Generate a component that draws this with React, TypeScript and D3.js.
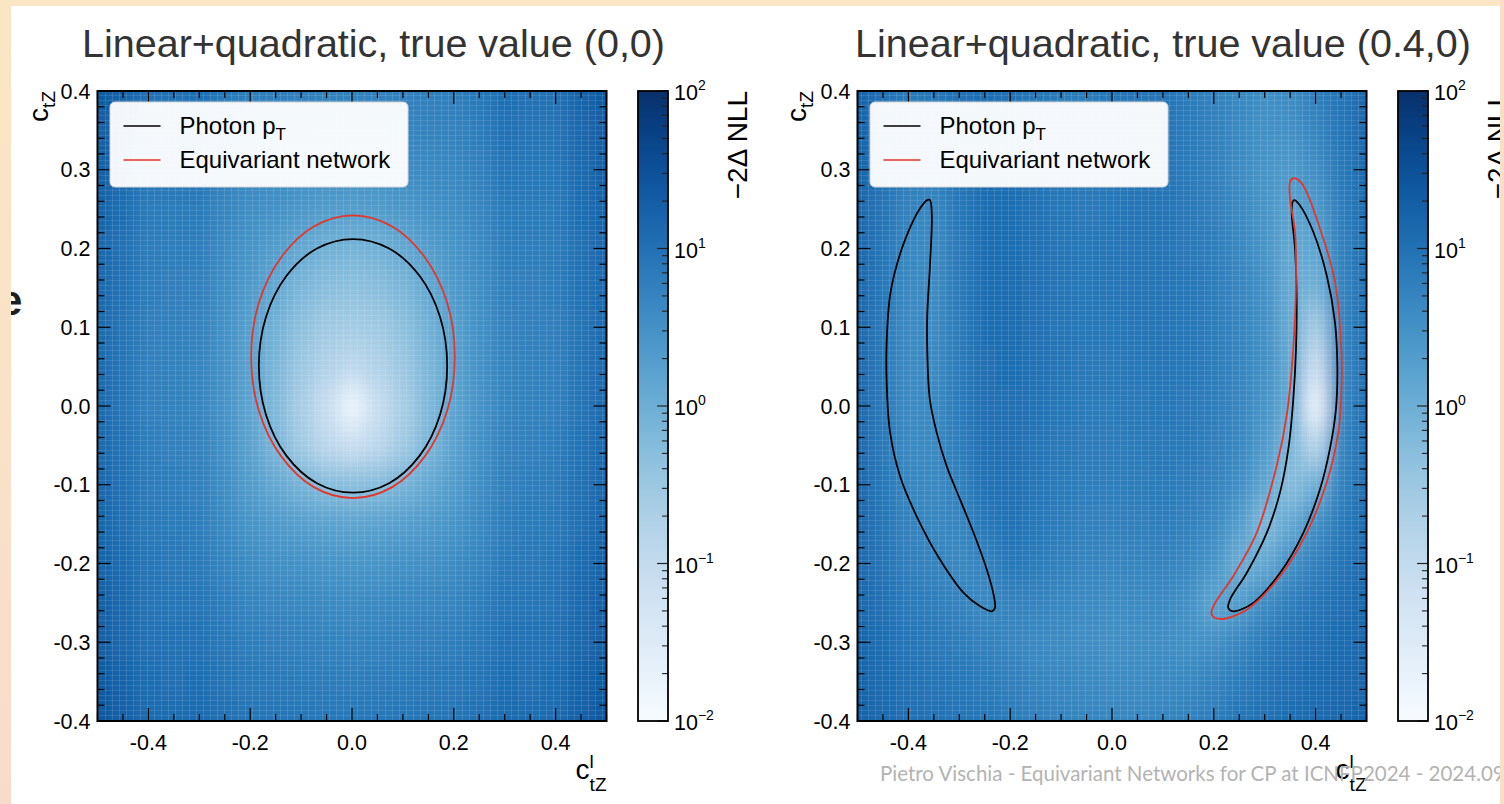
import React from "react";
import * as d3 from "d3";

// ---------- data ----------
const X_GRID = [-0.5, -0.45, -0.4, -0.35, -0.3, -0.25, -0.2, -0.15, -0.1, -0.05, 0, 0.05, 0.1, 0.15, 0.2, 0.25, 0.3, 0.35, 0.4, 0.45, 0.5];
const Y_GRID = [0.4, 0.35, 0.3, 0.25, 0.2, 0.15, 0.1, 0.05, 0, -0.05, -0.1, -0.15, -0.2, -0.25, -0.3, -0.35, -0.4];

// log10(-2 Delta NLL), true value (0,0)
const LOG_NLL_TRUE_00 = [
  [1.35, 1.2, 1.0, 1.0, 1.05, 0.9, 0.8, 0.8, 0.78, 0.75, 0.75, 0.75, 0.78, 0.8, 0.8, 0.9, 1.05, 1.0, 1.0, 1.2, 1.35],
  [1.3, 1.15, 0.95, 0.95, 0.98, 0.82, 0.72, 0.72, 0.7, 0.66, 0.65, 0.66, 0.7, 0.72, 0.72, 0.82, 0.98, 0.95, 0.95, 1.15, 1.3],
  [1.25, 1.1, 0.9, 0.9, 0.92, 0.75, 0.64, 0.62, 0.58, 0.52, 0.5, 0.52, 0.58, 0.62, 0.64, 0.75, 0.92, 0.9, 0.9, 1.1, 1.25],
  [1.2, 1.05, 0.85, 0.85, 0.85, 0.68, 0.55, 0.5, 0.4, 0.33, 0.3, 0.33, 0.4, 0.5, 0.55, 0.68, 0.85, 0.85, 0.85, 1.05, 1.2],
  [1.15, 1.0, 0.82, 0.8, 0.8, 0.6, 0.45, 0.3, 0.1, -0.05, -0.1, -0.05, 0.1, 0.3, 0.45, 0.6, 0.8, 0.8, 0.82, 1.0, 1.15],
  [1.12, 0.98, 0.8, 0.78, 0.75, 0.55, 0.35, 0.1, -0.15, -0.3, -0.35, -0.3, -0.15, 0.1, 0.35, 0.55, 0.75, 0.78, 0.8, 0.98, 1.12],
  [1.1, 0.96, 0.78, 0.75, 0.72, 0.5, 0.25, -0.05, -0.35, -0.55, -0.6, -0.55, -0.35, -0.05, 0.25, 0.5, 0.72, 0.75, 0.78, 0.96, 1.1],
  [1.1, 0.95, 0.77, 0.74, 0.7, 0.48, 0.2, -0.15, -0.5, -0.75, -0.9, -0.75, -0.5, -0.15, 0.2, 0.48, 0.7, 0.74, 0.77, 0.95, 1.1],
  [1.1, 0.95, 0.77, 0.74, 0.7, 0.47, 0.18, -0.2, -0.65, -1.1, -1.8, -1.1, -0.65, -0.2, 0.18, 0.47, 0.7, 0.74, 0.77, 0.95, 1.1],
  [1.12, 0.97, 0.8, 0.76, 0.72, 0.5, 0.2, -0.15, -0.55, -0.9, -1.1, -0.9, -0.55, -0.15, 0.2, 0.5, 0.72, 0.76, 0.8, 0.97, 1.12],
  [1.15, 1.0, 0.83, 0.8, 0.75, 0.55, 0.3, 0.1, -0.1, -0.25, -0.3, -0.25, -0.1, 0.1, 0.3, 0.55, 0.75, 0.8, 0.83, 1.0, 1.15],
  [1.18, 1.04, 0.87, 0.84, 0.8, 0.62, 0.45, 0.35, 0.28, 0.22, 0.2, 0.22, 0.28, 0.35, 0.45, 0.62, 0.8, 0.84, 0.87, 1.04, 1.18],
  [1.22, 1.08, 0.92, 0.88, 0.86, 0.7, 0.58, 0.52, 0.5, 0.46, 0.45, 0.46, 0.5, 0.52, 0.58, 0.7, 0.86, 0.88, 0.92, 1.08, 1.22],
  [1.26, 1.12, 0.96, 0.93, 0.92, 0.8, 0.7, 0.68, 0.65, 0.62, 0.6, 0.62, 0.65, 0.68, 0.7, 0.8, 0.92, 0.93, 0.96, 1.12, 1.26],
  [1.3, 1.16, 1.0, 0.98, 0.98, 0.88, 0.8, 0.78, 0.76, 0.73, 0.72, 0.73, 0.76, 0.78, 0.8, 0.88, 0.98, 0.98, 1.0, 1.16, 1.3],
  [1.35, 1.2, 1.05, 1.03, 1.05, 0.95, 0.88, 0.88, 0.85, 0.83, 0.82, 0.83, 0.85, 0.88, 0.88, 0.95, 1.05, 1.03, 1.05, 1.2, 1.35],
  [1.4, 1.25, 1.1, 1.08, 1.1, 1.02, 0.95, 0.95, 0.93, 0.9, 0.9, 0.9, 0.93, 0.95, 0.95, 1.02, 1.1, 1.08, 1.1, 1.25, 1.4],
];

// log10(-2 Delta NLL), true value (0.4,0)
const LOG_NLL_TRUE_04 = [
  [1.2, 1.0, 0.85, 0.9, 1.0, 1.05, 1.0, 0.9, 0.85, 0.85, 0.9, 0.95, 0.95, 0.85, 0.75, 0.65, 0.55, 0.6, 0.8, 0.95, 1.1],
  [1.2, 1.0, 0.82, 0.85, 0.98, 1.05, 1.02, 0.92, 0.85, 0.85, 0.9, 0.95, 0.95, 0.85, 0.75, 0.62, 0.5, 0.5, 0.7, 0.92, 1.1],
  [1.18, 0.98, 0.8, 0.8, 0.95, 1.05, 1.02, 0.95, 0.88, 0.87, 0.9, 0.95, 0.95, 0.85, 0.75, 0.6, 0.45, 0.35, 0.55, 0.88, 1.08],
  [1.16, 0.95, 0.72, 0.65, 0.9, 1.05, 1.05, 0.98, 0.9, 0.88, 0.9, 0.95, 0.95, 0.88, 0.78, 0.62, 0.45, 0.2, 0.35, 0.8, 1.05],
  [1.15, 0.92, 0.65, 0.6, 0.88, 1.05, 1.05, 1.0, 0.92, 0.9, 0.92, 0.95, 0.95, 0.88, 0.8, 0.65, 0.45, 0.1, 0.15, 0.75, 1.02],
  [1.15, 0.9, 0.62, 0.58, 0.86, 1.05, 1.06, 1.0, 0.92, 0.9, 0.92, 0.95, 0.95, 0.9, 0.82, 0.68, 0.5, 0.05, -0.05, 0.72, 1.0],
  [1.15, 0.88, 0.6, 0.58, 0.85, 1.05, 1.06, 1.0, 0.93, 0.9, 0.9, 0.92, 0.95, 0.9, 0.82, 0.7, 0.52, 0.05, -0.6, 0.7, 1.0],
  [1.15, 0.88, 0.6, 0.6, 0.84, 1.04, 1.05, 1.0, 0.92, 0.88, 0.88, 0.9, 0.92, 0.9, 0.82, 0.7, 0.52, 0.1, -1.1, 0.66, 0.98],
  [1.15, 0.88, 0.6, 0.62, 0.84, 1.02, 1.04, 0.98, 0.9, 0.85, 0.85, 0.88, 0.9, 0.88, 0.8, 0.68, 0.45, 0.05, -1.7, 0.66, 0.98],
  [1.15, 0.88, 0.62, 0.62, 0.8, 1.0, 1.02, 0.95, 0.88, 0.83, 0.83, 0.85, 0.88, 0.86, 0.78, 0.65, 0.35, -0.15, -0.8, 0.7, 1.0],
  [1.15, 0.9, 0.68, 0.62, 0.75, 0.98, 1.0, 0.93, 0.85, 0.8, 0.8, 0.82, 0.85, 0.82, 0.72, 0.55, 0.15, -0.3, 0.0, 0.75, 1.02],
  [1.15, 0.92, 0.72, 0.66, 0.68, 0.9, 0.98, 0.9, 0.82, 0.76, 0.75, 0.78, 0.8, 0.75, 0.62, 0.3, -0.2, 0.1, 0.55, 0.85, 1.05],
  [1.15, 0.95, 0.78, 0.72, 0.62, 0.72, 0.9, 0.85, 0.75, 0.7, 0.68, 0.7, 0.72, 0.65, 0.45, 0.0, 0.1, 0.5, 0.78, 0.95, 1.08],
  [1.15, 1.0, 0.85, 0.8, 0.72, 0.62, 0.72, 0.72, 0.65, 0.6, 0.58, 0.6, 0.62, 0.5, 0.15, 0.3, 0.6, 0.8, 0.92, 1.02, 1.1],
  [1.17, 1.05, 0.92, 0.88, 0.82, 0.75, 0.68, 0.62, 0.58, 0.55, 0.52, 0.55, 0.55, 0.5, 0.52, 0.68, 0.85, 0.95, 1.02, 1.08, 1.12],
  [1.2, 1.08, 0.98, 0.95, 0.9, 0.85, 0.78, 0.7, 0.66, 0.62, 0.6, 0.6, 0.62, 0.65, 0.72, 0.85, 0.95, 1.02, 1.08, 1.12, 1.15],
  [1.22, 1.12, 1.02, 1.0, 0.95, 0.92, 0.85, 0.78, 0.72, 0.7, 0.68, 0.68, 0.7, 0.75, 0.82, 0.92, 1.0, 1.05, 1.1, 1.15, 1.18],
];

// contour points [c_tZ^l, c_tZ]
const PHOTON_00 = [
  [0.187, 0.051], [0.173, 0.113], [0.133, 0.165], [0.073, 0.2], [0.002, 0.212], [-0.069, 0.2], [-0.129, 0.165], [-0.169, 0.113],
  [-0.183, 0.051], [-0.169, -0.011], [-0.129, -0.063], [-0.069, -0.098], [0.002, -0.11], [0.073, -0.098], [0.133, -0.063], [0.173, -0.011],
];
const EQUIV_00 = [
  [0.202, 0.0625], [0.187, 0.131], [0.143, 0.189], [0.079, 0.228], [0.002, 0.242], [-0.075, 0.228], [-0.139, 0.189], [-0.183, 0.131],
  [-0.198, 0.0625], [-0.183, -0.006], [-0.139, -0.064], [-0.075, -0.103], [0.002, -0.117], [0.079, -0.103], [0.143, -0.064], [0.187, -0.006],
];
const PHOTON_04_LEFT = [
  [-0.3576, 0.2615], [-0.354, 0.2424], [-0.3576, 0.1787], [-0.363, 0.115], [-0.363, 0.0726], [-0.358, 0.0089], [-0.3445, -0.0335],
  [-0.325, -0.076], [-0.2986, -0.1185], [-0.272, -0.161], [-0.246, -0.2076], [-0.232, -0.2416], [-0.23, -0.2565], [-0.236, -0.2607],
  [-0.259, -0.2544], [-0.292, -0.237], [-0.338, -0.195], [-0.384, -0.1397], [-0.4165, -0.0888], [-0.436, -0.0335], [-0.4427, 0.0302],
  [-0.4427, 0.0811], [-0.436, 0.1405], [-0.423, 0.1787], [-0.403, 0.217], [-0.377, 0.251], [-0.363, 0.2615],
];
const PHOTON_04_RIGHT = [
  [0.358, 0.2615], [0.369, 0.255], [0.3955, 0.221], [0.4218, 0.166], [0.438, 0.1066], [0.4427, 0.0513], [0.44, -0.0038], [0.428, -0.0548],
  [0.4086, -0.1057], [0.3759, -0.161], [0.33, -0.212], [0.2776, -0.25], [0.238, -0.2607], [0.2285, -0.2565], [0.2318, -0.2459],
  [0.2646, -0.212], [0.304, -0.161], [0.33, -0.11], [0.3464, -0.0548], [0.3562, 0.0089], [0.3615, 0.0726], [0.3628, 0.1363],
  [0.3595, 0.2], [0.353, 0.2467], [0.355, 0.2594],
];
const EQUIV_04 = [
  [0.356, 0.2892], [0.3727, 0.2828], [0.4086, 0.2255], [0.438, 0.1576], [0.4492, 0.0896], [0.4512, 0.0302], [0.4446, -0.0335],
  [0.4218, -0.0972], [0.3825, -0.161], [0.33, -0.2162], [0.2646, -0.2586], [0.2122, -0.2705], [0.1958, -0.265], [0.199, -0.2544],
  [0.238, -0.2162], [0.2842, -0.161], [0.3235, -0.076], [0.3432, -0.0123], [0.356, 0.0726], [0.3615, 0.1576], [0.3595, 0.2213],
  [0.3497, 0.2637], [0.3497, 0.2844],
];

const X_MAJOR = [-0.4, -0.2, 0, 0.2, 0.4];
const Y_MAJOR = [0.4, 0.3, 0.2, 0.1, 0, -0.1, -0.2, -0.3, -0.4];
const CB_MAJOR = [0.01, 0.1, 1, 10, 100];
const CB_EXPONENT = ["\u22122", "\u22121", "0", "1", "2"];
const TITLES = ["Linear+quadratic, true value (0,0)", "Linear+quadratic, true value (0.4,0)"];
const LEGEND_LABELS = ["Photon p", "Equivariant network"];
const CB_LABEL = "\u22122\u0394 NLL";
const FOOTER = "Pietro Vischia - Equivariant Networks for CP at ICNFP2024 - 2024.09.05";

// ---------- styles ----------
const FONT = "'Liberation Sans', Arial, Helvetica, sans-serif";
const RED = "#e5352b";
const PEACH = "#fbe5c4";

const PANELS = [
  { id: "p0", fx: 97.5, titleX: 82, ylabX: 48, field: LOG_NLL_TRUE_00, black: [PHOTON_00], red: [EQUIV_00], title: TITLES[0] },
  { id: "p1", fx: 857.5, titleX: 855, ylabX: 806, field: LOG_NLL_TRUE_04, black: [PHOTON_04_LEFT, PHOTON_04_RIGHT], red: [EQUIV_04], title: TITLES[1] },
];

const FW = 509;
const FY0 = 91;
const FY1 = 721;

const color = d3.scaleSequentialLog(d3.interpolateBlues).domain([1e-2, 1e2]).clamp(true);

function Panel({ p }: { p: any }) {
  const xs = d3.scaleLinear().domain([-0.5, 0.5]).range([p.fx, p.fx + FW]);
  const ys = d3.scaleLinear().domain([-0.4, 0.4]).range([FY1, FY0]);
  const cw = xs(0.05) - xs(0);
  const ch = ys(0) - ys(0.05);
  const line = d3
    .line<number[]>()
    .x((d) => xs(d[0]))
    .y((d) => ys(d[1]))
    .curve(d3.curveCatmullRomClosed.alpha(0.5));

  const cbX = p.fx + 540.5;
  const cbW = 30;
  const cbs = d3.scaleLog().domain([1e-2, 1e2]).range([FY1, FY0]);
  const cbMinor: number[] = [];
  [0.01, 0.1, 1, 10].forEach((dec) => {
    for (let k = 2; k <= 9; k++) cbMinor.push(dec * k);
  });

  const xMinor = d3.range(-0.5, 0.5001, 0.05).map((v) => Math.round(v * 100) / 100);
  const yMinor = d3.range(-0.4, 0.4001, 0.02).map((v) => Math.round(v * 100) / 100);

  const rects: any[] = [];
  p.field.forEach((row: number[], i: number) => {
    row.forEach((lg: number, j: number) => {
      let x0 = xs(X_GRID[j]) - cw / 2;
      let x1 = x0 + cw;
      let y0 = ys(Y_GRID[i]) - ch / 2;
      let y1 = y0 + ch;
      if (j === 0) x0 -= 70;
      if (j === row.length - 1) x1 += 70;
      if (i === 0) y0 -= 70;
      if (i === p.field.length - 1) y1 += 70;
      rects.push(
        <rect key={`${i}-${j}`} x={x0} y={y0} width={x1 - x0 + 0.6} height={y1 - y0 + 0.6} fill={color(Math.pow(10, lg))} />
      );
    });
  });

  const fmt = (v: number) => (Math.abs(v) < 1e-9 ? "0.0" : v.toFixed(1));

  return (
    <g fontFamily={FONT}>
      <defs>
        <clipPath id={`clip-${p.id}`}>
          <rect x={p.fx} y={FY0} width={FW} height={FY1 - FY0} />
        </clipPath>
        <filter id={`blur-${p.id}`} filterUnits="userSpaceOnUse" x={p.fx - 100} y={0} width={FW + 200} height={804}>
          <feGaussianBlur stdDeviation="8 14" />
        </filter>
        <linearGradient id={`cbg-${p.id}`} x1="0" y1="1" x2="0" y2="0">
          {d3.range(0, 1.0001, 0.05).map((t) => (
            <stop key={t} offset={t} stopColor={d3.interpolateBlues(t)} />
          ))}
        </linearGradient>
      </defs>

      {/* title */}
      <text x={p.titleX} y={57} fontSize={39.5} fill="#333">
        {p.title}
      </text>

      {/* heatmap */}
      <g clipPath={`url(#clip-${p.id})`}>
        <g filter={`url(#blur-${p.id})`}>{rects}</g>
        <rect x={p.fx} y={FY0} width={FW} height={FY1 - FY0} fill="url(#mesh)" />
        {p.black.map((c: number[][], k: number) => (
          <path key={`b${k}`} d={line(c) || ""} fill="none" stroke="#000" strokeWidth={1.8} />
        ))}
        {p.red.map((c: number[][], k: number) => (
          <path key={`r${k}`} d={line(c) || ""} fill="none" stroke={RED} strokeWidth={1.8} />
        ))}
      </g>

      {/* ticks */}
      {xMinor.map((v) => {
        const major = X_MAJOR.some((m) => Math.abs(m - v) < 1e-6);
        const L = major ? 13 : 7;
        return (
          <g key={`xt${v}`} stroke="#000" strokeWidth={1.2}>
            <line x1={xs(v)} x2={xs(v)} y1={FY1} y2={FY1 - L} />
            <line x1={xs(v)} x2={xs(v)} y1={FY0} y2={FY0 + L} />
          </g>
        );
      })}
      {yMinor.map((v) => {
        const major = Y_MAJOR.some((m) => Math.abs(m - v) < 1e-6);
        const L = major ? 13 : 7;
        return (
          <g key={`yt${v}`} stroke="#000" strokeWidth={1.2}>
            <line x1={p.fx} x2={p.fx + L} y1={ys(v)} y2={ys(v)} />
            <line x1={p.fx + FW} x2={p.fx + FW - L} y1={ys(v)} y2={ys(v)} />
          </g>
        );
      })}
      <rect x={p.fx} y={FY0} width={FW} height={FY1 - FY0} fill="none" stroke="#000" strokeWidth={2} />

      {/* tick labels */}
      {X_MAJOR.map((v) => (
        <text key={`xl${v}`} x={xs(v)} y={750} fontSize={21.5} textAnchor="middle" fill="#000">
          {fmt(v)}
        </text>
      ))}
      {Y_MAJOR.map((v) => (
        <text key={`yl${v}`} x={p.fx - 7} y={ys(v) + 7.5} fontSize={21.5} textAnchor="end" fill="#000">
          {fmt(v)}
        </text>
      ))}

      {/* axis labels */}
      <text transform={`translate(${p.ylabX},${FY0}) rotate(-90)`} textAnchor="end" fontSize={28} fill="#000">
        c<tspan fontSize={19} dy={7}>tZ</tspan>
      </text>
      <text x={p.fx + FW} y={779} textAnchor="end" fontSize={28} fill="#000">
        c<tspan fontSize={19} dy={-11}>l</tspan>
        <tspan fontSize={19} dx={-4} dy={23}>tZ</tspan>
      </text>

      {/* legend */}
      <rect x={p.fx + 12.5} y={102} width={298} height={85} rx={5} fill="#fff" fillOpacity={0.95} stroke="#d4d4d4" strokeWidth={1} />
      {LEGEND_LABELS.map((lab, k) => (
        <g key={lab}>
          <line x1={p.fx + 26} x2={p.fx + 63} y1={126 + k * 34} y2={126 + k * 34} stroke={k === 0 ? "#000" : RED} strokeWidth={1.6} />
          <text x={p.fx + 82} y={134 + k * 34} fontSize={24} fill="#000">
            {lab}
            {k === 0 ? (
              <tspan fontSize={17} dy={6}>
                T
              </tspan>
            ) : null}
          </text>
        </g>
      ))}

      {/* colorbar */}
      <rect x={cbX} y={FY0} width={cbW} height={FY1 - FY0} fill={`url(#cbg-${p.id})`} />
      {cbMinor.map((v) => (
        <line key={`cm${v}`} x1={cbX + cbW} x2={cbX + cbW - 6} y1={cbs(v)} y2={cbs(v)} stroke="#222" strokeWidth={1.1} />
      ))}
      {CB_MAJOR.map((v) => (
        <line key={`cM${v}`} x1={cbX + cbW} x2={cbX + cbW - 11} y1={cbs(v)} y2={cbs(v)} stroke="#222" strokeWidth={1.2} />
      ))}
      <rect x={cbX} y={FY0} width={cbW} height={FY1 - FY0} fill="none" stroke="#000" strokeWidth={1.8} />
      {CB_MAJOR.map((v, k) => (
        <text key={`cl${v}`} x={cbX + cbW + 6} y={cbs(v) + 9} fontSize={21.5} fill="#000">
          10
          <tspan fontSize={14} dy={-10}>
            {CB_EXPONENT[k]}
          </tspan>
        </text>
      ))}
      <text transform={`translate(${cbX + cbW + 79},${FY0}) rotate(-90)`} textAnchor="end" fontSize={28} fill="#000">
        {CB_LABEL}
      </text>
    </g>
  );
}

export default function App() {
  return (
    <svg
      width={1504}
      height={804}
      viewBox="0 0 1504 804"
      style={{ position: "absolute", left: 0, top: 0, display: "block", background: "#fff" }}
    >
      <defs>
        <pattern id="mesh" width={7} height={5} patternUnits="userSpaceOnUse">
          <line x1={0.5} x2={0.5} y1={0} y2={5} stroke="#fff" strokeOpacity={0.12} strokeWidth={1} />
          <line x1={0} x2={7} y1={0.5} y2={0.5} stroke="#fff" strokeOpacity={0.1} strokeWidth={1} />
        </pattern>
        <linearGradient id="leftStrip" x1="0" y1="0" x2="0" y2="1">
          <stop offset="0" stopColor="#fbe6c3" />
          <stop offset="1" stopColor="#f8dccb" />
        </linearGradient>
      </defs>
      <rect x={0} y={0} width={1504} height={804} fill="#fff" />
      <text x={-1} y={315} fontSize={42} fontWeight="bold" fontFamily={FONT} fill="#1e1e1e">
        e
      </text>
      {PANELS.map((p) => (
        <Panel key={p.id} p={p} />
      ))}
      <text x={880} y={781} fontSize={20.5} fontFamily="Lato, 'Open Sans', sans-serif" fill="#b3b3b3">
        {FOOTER}
      </text>
      <rect x={0} y={0} width={1504} height={6} fill={PEACH} />
      <rect x={0} y={0} width={11} height={804} fill="url(#leftStrip)" />
      <rect x={1500} y={0} width={4} height={804} fill="#fadfc7" />
    </svg>
  );
}
